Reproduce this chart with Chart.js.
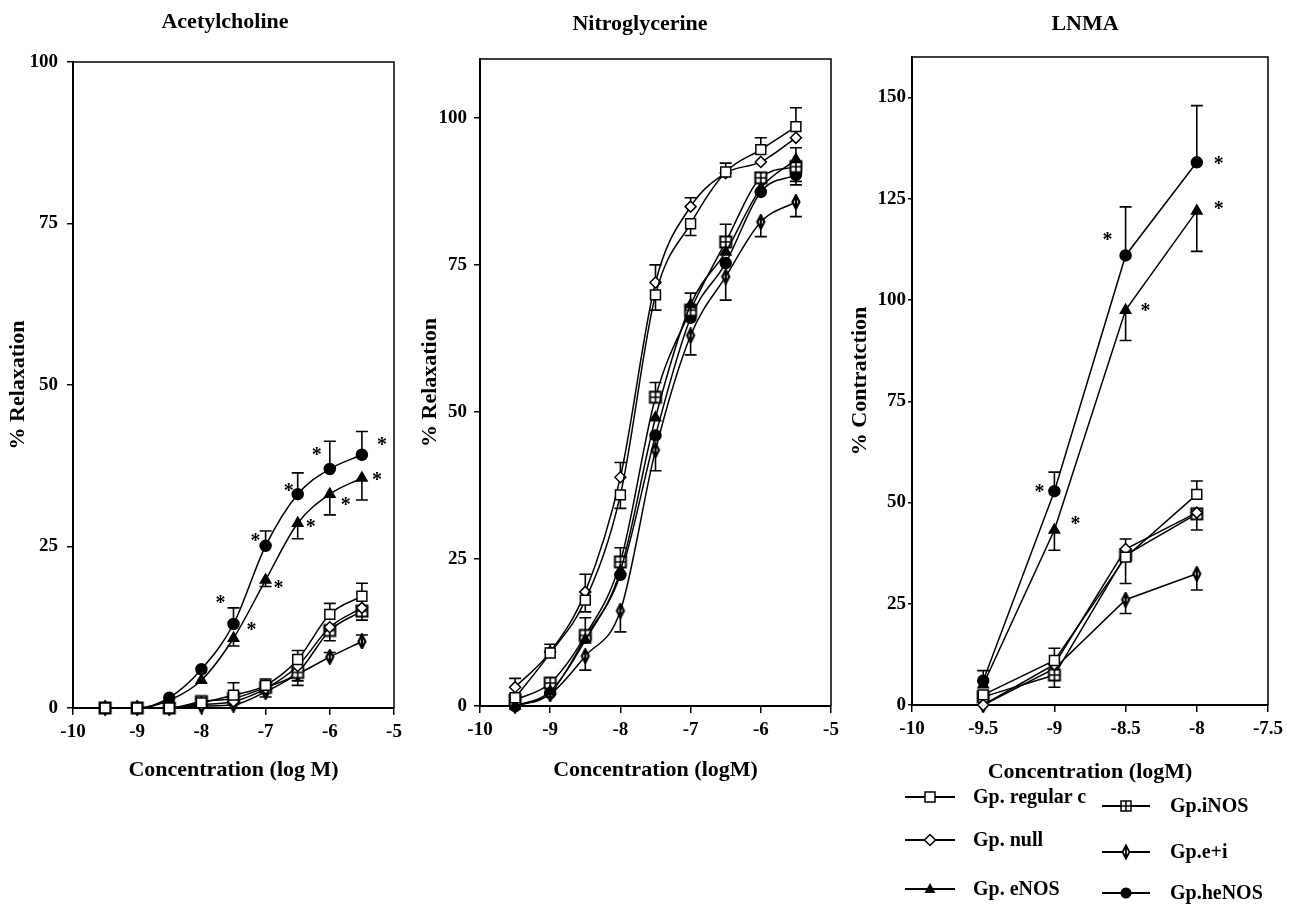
<!DOCTYPE html>
<html><head><meta charset="utf-8">
<script src="https://cdn.jsdelivr.net/npm/chart.js@4.4.1/dist/chart.umd.min.js"></script>
<style>
body{margin:0;background:#fff;width:1300px;height:906px;position:relative;overflow:hidden;font-family:"Liberation Serif","Times New Roman",serif;}
canvas{position:absolute;top:0;}
.lg{position:absolute;font-weight:bold;font-size:20px;color:#000;white-space:nowrap;line-height:22px;}
svg{position:absolute;overflow:visible;}
</style></head><body>
<canvas id="c1" width="430" height="800" style="left:0px"></canvas>
<canvas id="c2" width="440" height="800" style="left:410px"></canvas>
<canvas id="c3" width="455" height="800" style="left:845px"></canvas>
<div id="legend"></div>
<script>
// ---------- DATA ----------
const seriesNames = ['Gp. regular c','Gp. null','Gp. eNOS','Gp.iNOS','Gp.e+i','Gp.heNOS'];

// Acetylcholine
const xAch = [-9.5,-9,-8.5,-8,-7.5,-7,-6.5,-6,-5.5];
const achRegular = [0,0,0,0.8,2,3.5,7.5,14.5,17.3];
const achNull    = [0,0,0,0.5,1,3,6.5,12.5,15.5];
const achENOS    = [0,0,1.2,4.3,10.8,19.8,28.6,33.1,35.6];
const achINOS    = [0,0,0,1,1.5,3.2,5.5,12,15];
const achEI      = [0,0,0,0.3,0.5,2.5,5.2,7.9,10.3];
const achHeNOS   = [0,0,1.6,6,13,25.1,33.1,37,39.2];
const achRegularErr = [0,0,0,0,1.9,1,1.4,1.7,2];
const achNullErr    = [0,0,0,0,0,0,0,0,0];
const achENOSErr    = [0,0,0,0,-1.2,-1,-2.4,-3.2,-3.4];
const achINOSErr    = [0,0,0,0,0,-1.5,-2,-1.6,-1.4];
const achEIErr      = [0,0,0,0,0,0,-1,0.7,1];
const achHeNOSErr   = [0,0,0,0,2.5,2.3,3.3,4.3,3.6];

// Nitroglycerine
const xNitro = [-9.5,-9,-8.5,-8,-7.5,-7,-6.5,-6,-5.5];
const nitroRegular = [1.4,9,18,35.9,69.9,82,90.8,94.6,98.5];
const nitroNull    = [3.2,9.2,19.4,38.9,72,84.9,90.6,92.5,96.6];
const nitroENOS    = [0,2.5,11.2,23,49,68.2,77.2,88,92.9];
const nitroINOS    = [1,3.9,12,24.5,52.5,67.3,78.9,89.8,91.7];
const nitroEI      = [0,2,8.5,16.2,43.5,63,73,82.3,85.7];
const nitroHeNOS   = [0,2.2,11.6,22.3,46,66,75.3,87.4,90.3];
const nitroRegularErr = [0,1.5,-2,-2.3,-2.6,-2,1.5,2,3.2];
const nitroNullErr    = [1.5,0,3,2.5,3,1.5,0,0,0];
const nitroENOSErr    = [0,0,0,0,0,2,0,0,2];
const nitroINOSErr    = [0,0,3,2.4,2.5,0,3,0,-2.5];
const nitroEIErr      = [0,0,-2.4,-3.6,-3.5,-3.3,-4,-2.5,-2.5];
const nitroHeNOSErr   = [0,0,0,0,0,0,0,0,-1.7];

// LNMA
const xLnma = [-9.5,-9,-8.5,-8];
const lnmaRegular = [2.5,11,36.5,52];
const lnmaNull    = [0,10,38.5,47.5];
const lnmaENOS    = [5,43.2,97.5,122];
const lnmaINOS    = [2,7.4,37,47.2];
const lnmaEI      = [0,9,26,32.4];
const lnmaHeNOS   = [6,52.8,111,134];
const lnmaRegularErr = [0,3,0,3.3];
const lnmaNullErr    = [0,0,2.5,0];
const lnmaENOSErr    = [0,-5,-7.5,-10];
const lnmaINOSErr    = [0,-3,-7,-4];
const lnmaEIErr      = [0,0,-3.4,-4];
const lnmaHeNOSErr   = [2.5,4.7,12,14];

// tick labels
const xTicksAch = [-10,-9,-8,-7,-6,-5];
const yTicksAch = [0,25,50,75,100];
const xTicksNitro = [-10,-9,-8,-7,-6,-5];
const yTicksNitro = [0,25,50,75,100];
const xTicksLnma = [-10,-9.5,-9,-8.5,-8,-7.5];
const yTicksLnma = [0,25,50,75,100,125,150];

// ---------- STYLE ----------
Chart.defaults.font.family = '"Liberation Serif","Times New Roman",serif';
Chart.defaults.font.weight = 'bold';
Chart.defaults.color = '#000';

function mk(kind){
  const c = document.createElement('canvas'); c.width = 16; c.height = 16;
  const g = c.getContext('2d'); g.strokeStyle='#000'; g.fillStyle='#fff'; g.lineWidth=2;
  if(kind==='inos'){
    g.fillRect(2.5,2.5,11,11); g.strokeRect(2.5,2.5,11,11);
    g.lineWidth=1.6;
    g.beginPath(); g.moveTo(8,2.5); g.lineTo(8,13.5); g.moveTo(2.5,8); g.lineTo(13.5,8); g.stroke();
  } else {
    g.lineWidth=2.2;
    g.beginPath(); g.moveTo(8,1.2); g.lineTo(11.5,8); g.lineTo(8,14.8); g.lineTo(4.5,8); g.closePath(); g.fill(); g.stroke();
    g.beginPath(); g.moveTo(8,1.2); g.lineTo(8,14.8); g.stroke();
  }
  return c;
}
const inosImg = mk('inos'), eiImg = mk('ei');
const pstyles = [
  {pointStyle:'rect', pointRadius:7, pointBackgroundColor:'#fff'},
  {pointStyle:'rectRot', pointRadius:5.5, pointBackgroundColor:'#fff'},
  {pointStyle:'triangle', pointRadius:6, pointBackgroundColor:'#000'},
  {pointStyle:inosImg, pointRadius:6, pointBackgroundColor:'#fff'},
  {pointStyle:eiImg, pointRadius:6, pointBackgroundColor:'#fff'},
  {pointStyle:'circle', pointRadius:5.5, pointBackgroundColor:'#000'}
];

const errPlugin = {
  id:'errbars',
  beforeDatasetsDraw(chart){
    const ctx = chart.ctx, ys = chart.scales.y;
    ctx.save(); ctx.strokeStyle='#000'; ctx.lineWidth=1.6;
    chart.data.datasets.forEach((ds,di)=>{
      const meta = chart.getDatasetMeta(di);
      (ds.errors||[]).forEach((e,i)=>{
        if(!e) return;
        const p = meta.data[i];
        const y2 = ys.getPixelForValue(ds.data[i].y + e);
        ctx.beginPath(); ctx.moveTo(p.x,p.y); ctx.lineTo(p.x,y2);
        ctx.moveTo(p.x-6,y2); ctx.lineTo(p.x+6,y2); ctx.stroke();
      });
    });
    ctx.restore();
  }
};
const decoPlugin = {
  id:'deco',
  afterDatasetsDraw(chart, args, opts){
    const ctx = chart.ctx, a = chart.chartArea;
    ctx.save();
    ctx.strokeStyle='#000'; ctx.lineWidth=1.5;
    ctx.beginPath(); ctx.moveTo(a.left,a.top); ctx.lineTo(a.right,a.top); ctx.lineTo(a.right,a.bottom); ctx.stroke();
    ctx.fillStyle='#000';
    ctx.font = 'bold 22px "Liberation Serif"';
    ctx.textAlign='center'; ctx.textBaseline='middle';
    ctx.fillText(opts.title, opts.tx, opts.ty);
    ctx.font = 'bold 20px "Liberation Serif"';
    (opts.stars||[]).forEach(s=>{
      const p = chart.getDatasetMeta(s[0]).data[s[1]];
      ctx.fillText('*', p.x + s[2], p.y + s[3] + 5);
    });
    ctx.restore();
  }
};

function panel(id, canvasLeft, canvasW, area, xs, series, errs, xCfg, yCfg, title, xTitle, yTitle, yTitlePad, xTitlePad, smooth, yTickLen, yTickPad){
  const datasets = series.map((vals,k)=>Object.assign({
    label: seriesNames[k],
    data: vals.map((v,i)=>({x:xs[i], y:v})),
    errors: errs[k],
    showLine:true, borderColor:'#000', borderWidth:1.5,
    pointBorderColor:'#000', pointBorderWidth:1.5,
    cubicInterpolationMode: smooth ? 'monotone' : 'default', tension:0,
    clip:false
  }, pstyles[k]));
  return new Chart(document.getElementById(id), {
    type:'scatter',
    data:{datasets},
    plugins:[errPlugin, decoPlugin],
    options:{
      responsive:false, animation:false, devicePixelRatio:1,
      layout:{padding:{left:0, top:area.top, right:canvasLeft+canvasW-area.right, bottom:0}},
      plugins:{legend:{display:false}, tooltip:{enabled:false},
        deco:{title:title.text, tx:title.x-canvasLeft, ty:title.y, stars:title.stars}},
      scales:{
        x:{type:'linear', min:xCfg.ticks[0], max:xCfg.ticks[xCfg.ticks.length-1],
          afterBuildTicks:s=>{s.ticks = xCfg.ticks.map(v=>({value:v}));},
          afterFit:s=>{s.height = 800 - area.bottom;},
          border:{display:true, color:'#000', width:2},
          grid:{drawOnChartArea:false, drawTicks:true, tickLength:7, color:'#000', lineWidth:1.5},
          ticks:{font:{size:19, weight:'bold'}, padding:6, maxRotation:0, callback:v=>String(v)},
          title:{display:true, text:xTitle, font:{size:22, weight:'bold'}, padding:{bottom:xTitlePad, top:0}}
        },
        y:{type:'linear', min:0, max:yCfg.max,
          afterBuildTicks:s=>{s.ticks = yCfg.ticks.map(v=>({value:v}));},
          afterFit:s=>{s.width = area.left - canvasLeft;},
          border:{display:true, color:'#000', width:2},
          grid:{drawOnChartArea:false, drawTicks:true, tickLength:yTickLen, color:'#000', lineWidth:1.5},
          ticks:{font:{size:19, weight:'bold'}, padding:yTickPad, callback:v=>String(v)},
          title:{display:true, text:yTitle, font:{size:22, weight:'bold'}, padding:{top:yTitlePad, bottom:0}}
        }
      }
    }
  });
}

panel('c1', 0, 430, {left:73, right:394, top:62, bottom:708}, xAch,
  [achRegular,achNull,achENOS,achINOS,achEI,achHeNOS],
  [achRegularErr,achNullErr,achENOSErr,achINOSErr,achEIErr,achHeNOSErr],
  {ticks:xTicksAch}, {ticks:yTicksAch, max:100},
  {text:'Acetylcholine', x:225, y:22, stars:[
    [5,4,-13,-25],[5,5,-10,-9],[5,6,-9,-7],[5,7,-13,-18],[5,8,20,-14],
    [2,4,18,-12],[2,5,13,4],[2,6,13,0],[2,7,16,7],[2,8,15,-2]]},
  'Concentration (log M)', '% Relaxation', 5, 16, true, 6, 9);

panel('c2', 410, 440, {left:480, right:831, top:59, bottom:706}, xNitro,
  [nitroRegular,nitroNull,nitroENOS,nitroINOS,nitroEI,nitroHeNOS],
  [nitroRegularErr,nitroNullErr,nitroENOSErr,nitroINOSErr,nitroEIErr,nitroHeNOSErr],
  {ticks:xTicksNitro}, {ticks:yTicksNitro, max:110},
  {text:'Nitroglycerine', x:640, y:24, stars:[]},
  'Concentration (logM)', '% Relaxation', 7, 16, true, 6, 7);

panel('c3', 845, 455, {left:912, right:1268, top:57, bottom:705}, xLnma,
  [lnmaRegular,lnmaNull,lnmaENOS,lnmaINOS,lnmaEI,lnmaHeNOS],
  [lnmaRegularErr,lnmaNullErr,lnmaENOSErr,lnmaINOSErr,lnmaEIErr,lnmaHeNOSErr],
  {ticks:xTicksLnma}, {ticks:yTicksLnma, max:160},
  {text:'LNMA', x:1085, y:24, stars:[
    [5,1,-15,-3],[2,1,21,-10],[5,2,-18,-20],[2,2,20,-3],[5,3,22,-2],[2,3,22,-6]]},
  'Concentration (logM)', '% Contratction', 2, 14, false, 4, 2);

// ---------- LEGEND ----------
const legendItems = [
  {k:0, lx:905, rx:955, y:797, tx:973},
  {k:1, lx:905, rx:955, y:840, tx:973},
  {k:2, lx:905, rx:955, y:889, tx:973},
  {k:3, lx:1102, rx:1150, y:806, tx:1170},
  {k:4, lx:1102, rx:1150, y:852, tx:1170},
  {k:5, lx:1102, rx:1150, y:893, tx:1170}
];
function markerSvg(k, cx, cy){
  if(k===0) return `<rect x="${cx-5}" y="${cy-5}" width="10" height="10" fill="#fff" stroke="#000" stroke-width="1.5"/>`;
  if(k===1) return `<polygon points="${cx},${cy-5.5} ${cx+5.5},${cy} ${cx},${cy+5.5} ${cx-5.5},${cy}" fill="#fff" stroke="#000" stroke-width="1.5"/>`;
  if(k===2) return `<polygon points="${cx},${cy-6} ${cx+5.5},${cy+4} ${cx-5.5},${cy+4}" fill="#000"/>`;
  if(k===3) return `<rect x="${cx-5}" y="${cy-5}" width="10" height="10" fill="#fff" stroke="#000" stroke-width="1.5"/><path d="M${cx} ${cy-5}V${cy+5}M${cx-5} ${cy}H${cx+5}" stroke="#000" stroke-width="1.5"/>`;
  if(k===4) return `<polygon points="${cx},${cy-6.5} ${cx+3.5},${cy} ${cx},${cy+6.5} ${cx-3.5},${cy}" fill="#fff" stroke="#000" stroke-width="1.8"/><path d="M${cx} ${cy-6.5}V${cy+6.5}" stroke="#000" stroke-width="1.8"/>`;
  return `<circle cx="${cx}" cy="${cy}" r="5.5" fill="#000"/>`;
}
const lg = document.getElementById('legend');
let html = '<svg width="1300" height="906" style="left:0;top:0">';
legendItems.forEach(it=>{
  const cx = (it.lx+it.rx)/2;
  html += `<line x1="${it.lx}" y1="${it.y}" x2="${it.rx}" y2="${it.y}" stroke="#000" stroke-width="1.8"/>` + markerSvg(it.k, cx, it.y);
});
html += '</svg>';
legendItems.forEach(it=>{
  html += `<div class="lg" style="left:${it.tx}px;top:${it.y-12}px">${seriesNames[it.k]}</div>`;
});
lg.innerHTML = html;
</script>
</body></html>
